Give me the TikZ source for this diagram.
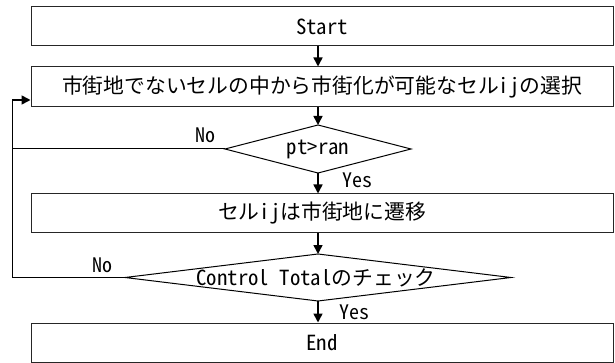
\documentclass[tikz,border=0pt]{standalone}
\usepackage{fontspec}
\usetikzlibrary{arrows.meta}
\newfontfamily\jpfont[RawFeature=+hwid]{Noto Sans CJK JP}
\tikzset{
  box/.style={draw=black!85, line width=1pt, minimum width=582pt, minimum height=39pt, inner sep=0pt,
    font=\jpfont\fontsize{20.8}{24}\selectfont},
  txt/.style={inner sep=0pt, font=\jpfont\fontsize{20.8}{24}\selectfont},
  lab/.style={inner sep=0pt, font=\jpfont\fontsize{20}{22}\selectfont},
  dia/.style={draw=black, line width=1pt, line join=miter},
  arr/.style={line width=1.6pt, -{Triangle[length=9pt,width=9pt]}},
  thin/.style={line width=1pt}
}
\begin{document}
\begin{tikzpicture}[x=1pt,y=-1pt]
\useasboundingbox (0,0) rectangle (615,363);
% boxes
\node[box] (start) at (322,26.5) {Start};
\node[box, minimum height=40pt] (sel) at (322,87) {市街地でないセルの中から市街化が可能なセルijの選択};
\node[box] (trans) at (322,213.5) {セルijは市街地に遷移};
\node[box] (end) at (322,342.5) {End};
% diamond 1
\coordinate (d1n) at (318,125);
\coordinate (d1s) at (318,173);
\coordinate (d1w) at (225,149);
\coordinate (d1e) at (411,149);
\draw[dia] (d1n) -- (d1e) -- (d1s) -- (d1w) -- cycle;
\node[txt] (d1t) at (318,149) {pt>ran};
% diamond 2
\coordinate (d2n) at (318,254);
\coordinate (d2s) at (318,301);
\coordinate (d2w) at (125,277.5);
\coordinate (d2e) at (511,277.5);
\draw[dia] (d2n) -- (d2e) -- (d2s) -- (d2w) -- cycle;
\node[txt] (d2t) at (316,277.5) {Control Totalのチェック};
% vertical arrows
\draw[arr] (start.south -| d1n) -- (sel.north -| d1n);
\draw[arr] (sel.south -| d1n) -- (d1n);
\draw[arr] (d1s) -- (trans.north -| d1s);
\draw[arr] (trans.south -| d2n) -- (d2n);
\draw[arr] (d2s) -- (end.north -| d2s);
% loop
\coordinate (lpb) at (12,277.5);
\coordinate (lpt) at (12,100);
\draw[thin] (d2w) -- (lpb) -- (lpt);
\draw[thin] (d1w) -- (d1w -| lpt);
\draw[arr] (lpt) -- (lpt -| sel.west);
% labels
\node[lab] (no1) at (205,135) {No};
\node[lab] (yes1) at (357,180) {Yes};
\node[lab] (no2) at (102,265) {No};
\node[lab] (yes2) at (354,312) {Yes};
\end{tikzpicture}
\end{document}
